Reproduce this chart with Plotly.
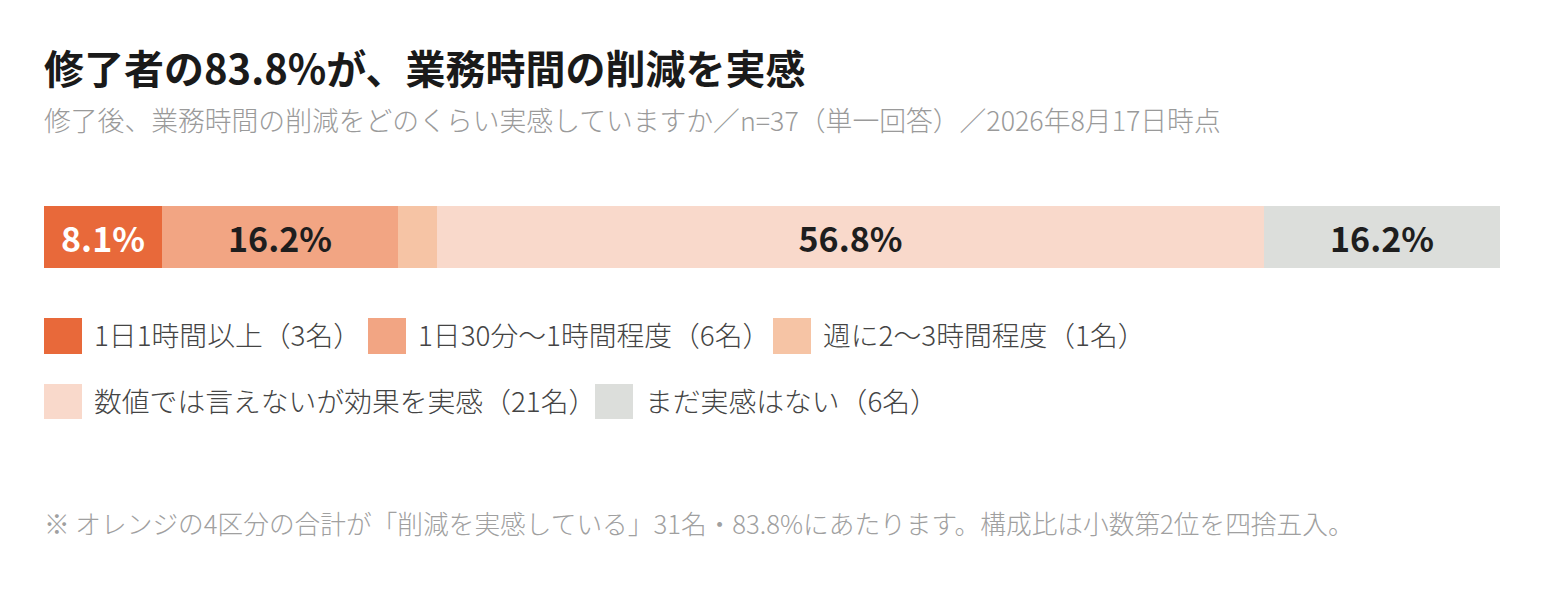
import plotly.graph_objects as go

# Survey data (n=37)
categories = ['1日1時間以上', '1日30分〜1時間程度', '週に2〜3時間程度',
              '数値では言えないが効果を実感', 'まだ実感はない']
counts = [3, 6, 1, 21, 6]
percents = [8.1, 16.2, 2.7, 56.8, 16.2]
show_label = [True, True, False, True, True]

colors = ['#E8693A', '#F2A583', '#F6C4A5', '#F9D9CB', '#DCDEDB']
label_colors = ['#FFFFFF', '#1E1E1E', '#1E1E1E', '#1E1E1E', '#1E1E1E']

# page body adds an 8px offset, so the figure is drawn 8px smaller
OFF = 8
W, H = 1545 - OFF, 612 - OFF
ML, MR = 44 - OFF, 45
FONT = 'Noto Sans CJK JP'


def px_x(px):
    return (px - OFF - ML) / (W - ML - MR)


def px_y(py):
    return 1 - (py - OFF) / H


fig = go.Figure()

for cat, p, col, lc, show in zip(categories, percents, colors, label_colors, show_label):
    fig.add_trace(go.Bar(
        x=[p], y=[0],
        orientation='h',
        width=1,
        name=cat,
        marker=dict(color=col, line=dict(width=0)),
        texttemplate='%{x:.1f}%' if show else '',
        textposition='inside',
        insidetextanchor='middle',
        constraintext='none',
        textangle=0,
        textfont=dict(family=FONT, size=34, color=lc, weight='bold'),
        hoverinfo='skip',
        showlegend=False,
    ))

# custom legend: (row, square left px)
legend_pos = [(0, 44), (0, 368), (0, 773), (1, 44), (1, 595)]
row_y = [(318, 354), (384, 419)]

shapes = []
annotations = []
for (row, left), cat, n, col in zip(legend_pos, categories, counts, colors):
    top, bottom = row_y[row]
    shapes.append(dict(type='rect', xref='paper', yref='paper',
                       x0=px_x(left), x1=px_x(left + 38),
                       y0=px_y(bottom), y1=px_y(top),
                       fillcolor=col, line=dict(width=0), layer='above'))
    annotations.append(dict(xref='paper', yref='paper',
                            x=px_x(left + 48), y=px_y((top + bottom) / 2 - 2),
                            xanchor='left', yanchor='middle', showarrow=False,
                            text=f'{cat}（{n}名）',
                            font=dict(family=FONT, size=27.8, color='#444444', weight=300)))

annotations += [
    dict(xref='paper', yref='paper', x=px_x(42), y=px_y(67),
         xanchor='left', yanchor='middle', showarrow=False,
         text='<b>修了者の83.8%が、業務時間の削減を実感</b>',
         font=dict(family=FONT, size=40, color='#1A1A1A')),
    dict(xref='paper', yref='paper', x=px_x(42), y=px_y(119),
         xanchor='left', yanchor='middle', showarrow=False,
         text='修了後、業務時間の削減をどのくらい実感していますか／n=37（単一回答）／2026年8月17日時点',
         font=dict(family=FONT, size=26.8, color='#9A9A9A', weight=300)),
    dict(xref='paper', yref='paper', x=px_x(42), y=px_y(522),
         xanchor='left', yanchor='middle', showarrow=False,
         text='※ オレンジの4区分の合計が「削減を実感している」31名・83.8%にあたります。構成比は小数第2位を四捨五入。',
         font=dict(family=FONT, size=25.7, color='#A0A0A0', weight=300)),
]

fig.update_layout(
    width=W, height=H,
    barmode='stack',
    bargap=0,
    margin=dict(l=ML, r=MR, t=0, b=0),
    paper_bgcolor='white',
    plot_bgcolor='white',
    xaxis=dict(range=[0, 100], visible=False, fixedrange=True),
    yaxis=dict(range=[-0.5, 0.5], visible=False, fixedrange=True,
               domain=[px_y(268), px_y(206)]),
    shapes=shapes,
    annotations=annotations,
    hovermode=False,
    font=dict(family=FONT),
)

fig.write_html("out.html", config={'displayModeBar': False})
